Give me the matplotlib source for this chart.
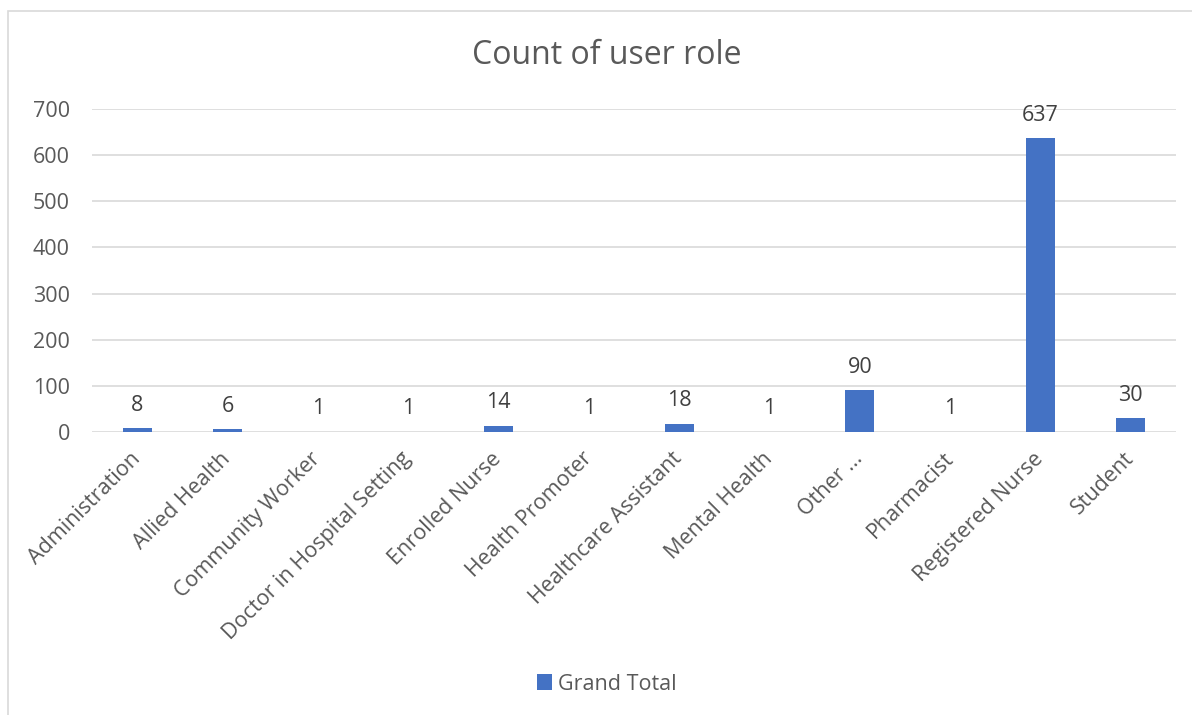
import matplotlib
matplotlib.use("Agg")
import matplotlib.pyplot as plt
from matplotlib.patches import Rectangle

categories = ["Administration", "Allied Health", "Community Worker",
              "Doctor in Hospital Setting", "Enrolled Nurse", "Health Promoter",
              "Healthcare Assistant", "Mental Health", "Other ...", "Pharmacist",
              "Registered Nurse", "Student"]
values = [8, 6, 1, 1, 14, 1, 18, 1, 90, 1, 637, 30]
yticks = [0, 100, 200, 300, 400, 500, 600, 700]
series_name = "Grand Total"
title = "Count of user role"

plt.rcParams['font.family'] = ['Open Sans', 'DejaVu Sans']
TXT = '#595959'
BAR = '#4472C4'
GRID = '#D9D9D9'
FS = 15.5

W, H = 1192, 715
fig = plt.figure(figsize=(W / 100, H / 100), dpi=100)
fig.patch.set_facecolor('white')

# chart border
fig.add_artist(Rectangle((8 / W, -0.05), 1.2, 1 - 11 / H + 0.05,
                         transform=fig.transFigure, fill=False,
                         edgecolor=GRID, linewidth=1.2))

ax = fig.add_axes([92 / W, 1 - 432 / H, (1176 - 92) / W, (432 - 109) / H])
x = list(range(len(categories)))
bars = ax.bar(x, values, width=0.32, color=BAR, label=series_name, zorder=3)
ax.set_xlim(-0.5, len(categories) - 0.5)
ax.set_ylim(0, 700)
ax.set_yticks(yticks)
ax.set_yticklabels([str(v) for v in yticks], fontsize=FS, color=TXT)
ax.yaxis.grid(True, color=GRID, linewidth=1.2, zorder=0)
for s in ax.spines.values():
    s.set_visible(False)
ax.set_xticks(x)
ax.set_xticklabels(categories, rotation=45, ha='right', va='center',
                   rotation_mode='anchor', fontsize=FS, color=TXT)
ax.tick_params(axis='x', length=0, pad=17)
ax.tick_params(axis='y', length=0, pad=16)

for xi, v in zip(x, values):
    ax.annotate(str(v), (xi, v), xytext=(0, 9), textcoords='offset points',
                ha='center', va='bottom', fontsize=FS, color='#404040')

fig.text(607 / W, 1 - 56 / H, title, ha='center', va='center',
         fontsize=23, color=TXT)

leg = fig.legend(handles=[bars], labels=[series_name], loc='center',
                 bbox_to_anchor=(607 / W, 1 - 684 / H), frameon=False,
                 fontsize=FS, handlelength=0.7, handleheight=0.7,
                 handletextpad=0.3)
for t in leg.get_texts():
    t.set_color(TXT)

fig.savefig('out.png', dpi=100)
